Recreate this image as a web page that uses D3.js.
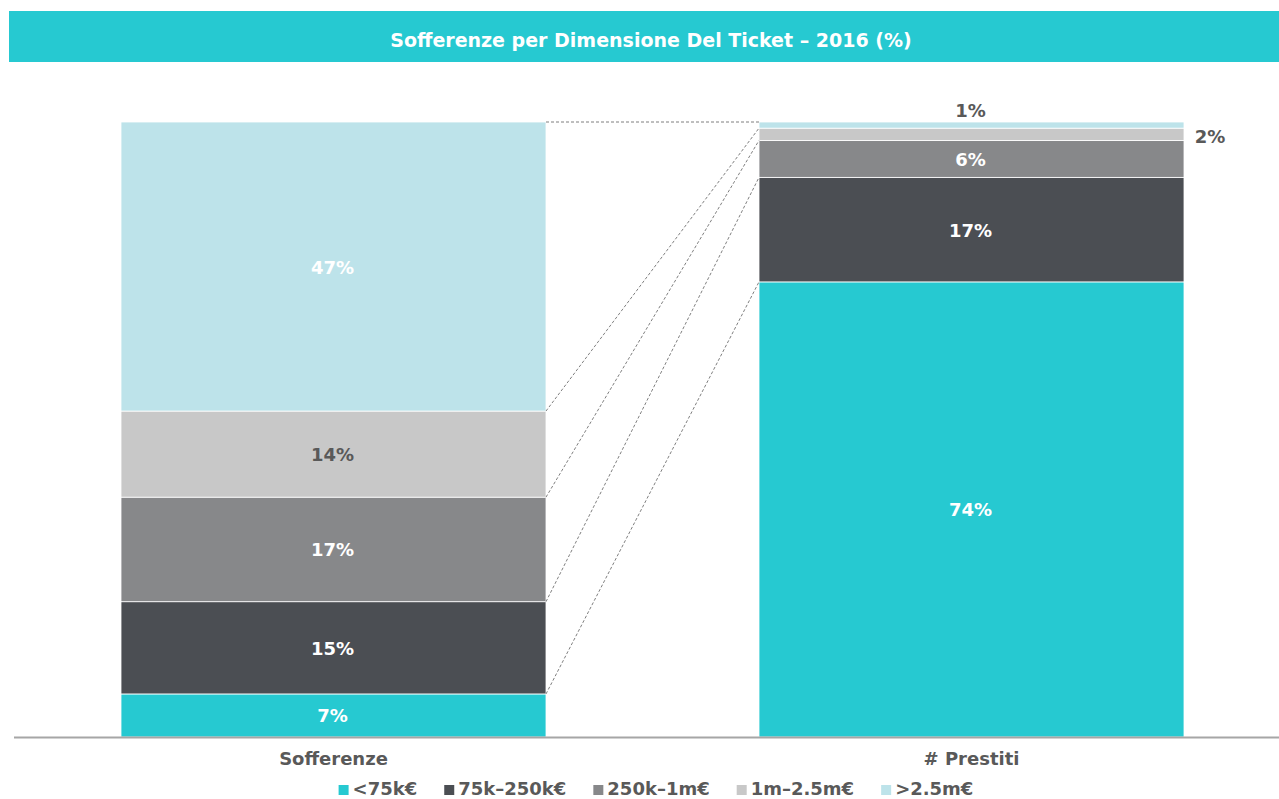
<!DOCTYPE html>
<html>
<head>
<meta charset="utf-8">
<script src="https://cdn.jsdelivr.net/npm/d3@7"></script>
<style>
  body { margin: 0; background: #fff; }
  svg { display: block; }
</style>
</head>
<body>
<script>
// dati
const categories = ["Sofferenze", "# Prestiti"];
const buckets = ["<75k€", "75k–250k€", "250k–1m€", "1m–2.5m€", ">2.5m€"];
const sofferenze = [7, 15, 17, 14, 47];
const prestiti = [74, 17, 6, 2, 1];
const colors = ["#26C9D1", "#4B4E53", "#87888A", "#C8C8C8", "#BDE3EA"];
const labelColors = ["#fff", "#fff", "#fff", "#595959", "#fff"];
const titleText = "Sofferenze per Dimensione Del Ticket – 2016 (%)";

const W = 1279, H = 799;
const font = "'DejaVu Sans', Verdana, sans-serif";
const svg = d3.select("body").append("svg")
    .attr("width", W)
    .attr("height", H)
    .style("font-family", font)
    .style("font-weight", "bold");

// barra del titolo
svg.append("rect")
    .attr("x", 9).attr("y", 11)
    .attr("width", W - 9).attr("height", 51)
    .attr("fill", "#26C9D1");
svg.append("text")
    .attr("x", 651).attr("y", 47)
    .attr("text-anchor", "middle")
    .attr("fill", "#fff")
    .style("font-size", "19px")
    .text(titleText);

// scale
const bw = 425;
let x = d3.scalePoint().domain(categories).range([333.5, 971.5]);
let y = d3.scaleLinear()
    .domain([0, 100])
    .range([737, 122]);

// stack
function stackOf(values) {
    let acc = 0;
    return values.map((v, i) => {
        let s = {i: i, v: v, y0: acc, y1: acc + v};
        acc += v;
        return s;
    });
}
const series = [stackOf(sofferenze), stackOf(prestiti)];

let g = svg.append("g");

categories.forEach((c, ci) => {
    g.append("g")
        .selectAll("rect")
        .data(series[ci])
        .join("rect")
        .attr("x", x(c) - bw / 2)
        .attr("width", bw)
        .attr("y", d => y(d.y1))
        .attr("height", d => y(d.y0) - y(d.y1))
        .attr("fill", d => colors[d.i])
        .attr("stroke", "#fff")
        .attr("stroke-width", 0.8);
});

// connettori tratteggiati
const xl = x(categories[0]) + bw / 2, xr = x(categories[1]) - bw / 2;
g.append("g")
    .selectAll("line")
    .data(d3.range(buckets.length))
    .join("line")
    .attr("x1", xl)
    .attr("x2", xr)
    .attr("y1", i => y(series[0][i].y1))
    .attr("y2", i => y(series[1][i].y1))
    .attr("stroke", "#7f7f7f")
    .attr("stroke-width", 1)
    .attr("stroke-dasharray", "3,2");

// etichette valori - sofferenze
g.append("g")
    .selectAll("text")
    .data(series[0])
    .join("text")
    .attr("x", x(categories[0]) - 1)
    .attr("y", d => y((d.y0 + d.y1) / 2) + 7)
    .attr("text-anchor", "middle")
    .attr("fill", d => labelColors[d.i])
    .style("font-size", "18px")
    .text(d => d.v + "%");

// etichette valori - prestiti
g.append("g")
    .selectAll("text")
    .data(series[1])
    .join("text")
    .attr("x", d => d.i === 3 ? x(categories[1]) + bw / 2 + 26 : x(categories[1]) - 1)
    .attr("y", d => {
        if (d.i === 4) return y(d.y1) - 5;
        if (d.i === 3) return y((d.y0 + d.y1) / 2) + 9;
        return y((d.y0 + d.y1) / 2) + 7;
    })
    .attr("text-anchor", "middle")
    .attr("fill", d => (d.i >= 3 ? "#595959" : "#fff"))
    .style("font-size", "18px")
    .text(d => d.v + "%");

// asse x
g.append("line")
    .attr("x1", 14).attr("x2", W)
    .attr("y1", 737.5).attr("y2", 737.5)
    .attr("stroke", "#A6A6A6")
    .attr("stroke-width", 2);

g.append("g")
    .selectAll("text")
    .data(categories)
    .join("text")
    .attr("x", d => x(d))
    .attr("y", 765)
    .attr("text-anchor", "middle")
    .attr("fill", "#595959")
    .style("font-size", "18px")
    .text(d => d);

// legenda
let legend = svg.append("g");
let items = legend.selectAll("g")
    .data(buckets)
    .join("g");
items.append("rect")
    .attr("width", 10).attr("height", 10)
    .attr("y", 785)
    .attr("fill", (d, i) => colors[i]);
items.append("text")
    .attr("x", 14)
    .attr("y", 795)
    .attr("fill", "#595959")
    .style("font-size", "18px")
    .text(d => d);
let widths = [];
items.each(function () {
    widths.push(14 + d3.select(this).select("text").node().getComputedTextLength());
});
const gap = 27;
const total = d3.sum(widths) + gap * (widths.length - 1);
let cx = 656 - total / 2;
items.attr("transform", (d, i) => {
    let t = "translate(" + cx + ",0)";
    cx += widths[i] + gap;
    return t;
});
</script>
</body>
</html>
